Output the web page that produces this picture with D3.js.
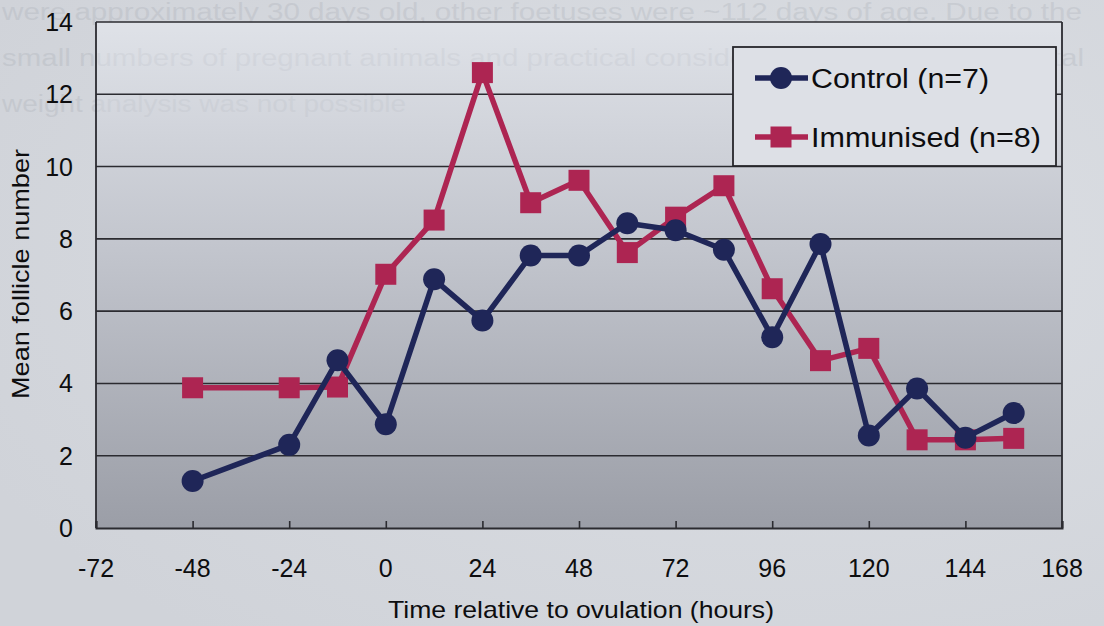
<!DOCTYPE html>
<html>
<head>
<meta charset="utf-8">
<script src="https://cdn.jsdelivr.net/npm/d3@7"></script>
<style>
  html, body { margin: 0; padding: 0; background: #d5d8de; }
  svg { display: block; font-family: "Liberation Sans", Arial, sans-serif; }
</style>
</head>
<body>
<svg id="chart" width="1104" height="626"></svg>
<script>
// Mean follicle number around ovulation, two treatment groups
const hours = [-48, -24, -12, 0, 12, 24, 36, 48, 60, 72, 84, 96, 108, 120, 132, 144, 156];
const control = [1.3, 2.3, 4.64, 2.87, 6.88, 5.74, 7.54, 7.54, 8.43, 8.24, 7.7, 5.28, 7.86, 2.56, 3.86, 2.5, 3.18];
const immunised = [3.88, 3.88, 3.9, 7.02, 8.52, 12.6, 9.0, 9.62, 7.62, 8.6, 9.47, 6.62, 4.63, 4.97, 2.44, 2.44, 2.48];
const xTicks = [-72, -48, -24, 0, 24, 48, 72, 96, 120, 144, 168];
const yTicks = [0, 2, 4, 6, 8, 10, 12, 14];
const seriesNames = ["Control (n=7)", "Immunised (n=8)"];
const pageText = [
  "were approximately 30 days old, other foetuses were ~112 days of age. Due to the",
  "small numbers of pregnant animals and practical considerations at slaughter, foetal",
  "weight analysis was not possible"
];

const svg = d3.select("#chart");
const W = 1104, H = 626;
const plot = { left: 96, right: 1062, top: 22, bottom: 528 };

const x = d3.scaleLinear().domain([-72, 168]).range([plot.left, plot.right]);
const y = d3.scaleLinear().domain([0, 14]).range([plot.bottom, plot.top]);

const navy = "#1f2658";
const crimson = "#ad2552";
const ink = "#0d0d0f";

// page + plot backgrounds
const defs = svg.append("defs");
const grad = defs.append("linearGradient").attr("id", "plotGrad")
  .attr("x1", 0).attr("y1", 0).attr("x2", 0).attr("y2", 1);
grad.append("stop").attr("offset", "0%").attr("stop-color", "#dfe2e8");
grad.append("stop").attr("offset", "45%").attr("stop-color", "#c2c5cd");
grad.append("stop").attr("offset", "100%").attr("stop-color", "#9b9ea7");

const pageGrad = defs.append("radialGradient").attr("id", "pageGrad")
  .attr("cx", "70%").attr("cy", "40%").attr("r", "80%");
pageGrad.append("stop").attr("offset", "0%").attr("stop-color", "#dcdfe4");
pageGrad.append("stop").attr("offset", "100%").attr("stop-color", "#d0d3d9");

svg.append("rect").attr("width", W).attr("height", H).attr("fill", "url(#pageGrad)");

// faint show-through text from the reverse of the page (sits behind the chart frame)
const ghost = svg.append("g").attr("fill", "#8a8f99").attr("opacity", 0.17);
ghost.append("text").attr("x", 2).attr("y", 20).attr("font-size", 23)
  .attr("textLength", 1080).attr("lengthAdjust", "spacingAndGlyphs").text(pageText[0]);
ghost.append("text").attr("x", 2).attr("y", 66).attr("font-size", 23)
  .attr("textLength", 1082).attr("lengthAdjust", "spacingAndGlyphs").text(pageText[1]);
ghost.append("text").attr("x", 2).attr("y", 112).attr("font-size", 23)
  .attr("textLength", 404).attr("lengthAdjust", "spacingAndGlyphs").text(pageText[2]);

svg.append("rect")
  .attr("x", plot.left).attr("y", plot.top)
  .attr("width", plot.right - plot.left).attr("height", plot.bottom - plot.top)
  .attr("fill", "url(#plotGrad)");

// show-through text also faintly visible across the light upper plot area
defs.append("clipPath").attr("id", "plotClip").append("rect")
  .attr("x", plot.left).attr("y", plot.top)
  .attr("width", plot.right - plot.left).attr("height", plot.bottom - plot.top);
const ghost2 = svg.append("g").attr("fill", "#8a8f99").attr("opacity", 0.09)
  .attr("clip-path", "url(#plotClip)");
ghost2.append("text").attr("x", 2).attr("y", 66).attr("font-size", 23)
  .attr("textLength", 1082).attr("lengthAdjust", "spacingAndGlyphs").text(pageText[1]);
ghost2.append("text").attr("x", 2).attr("y", 112).attr("font-size", 23)
  .attr("textLength", 404).attr("lengthAdjust", "spacingAndGlyphs").text(pageText[2]);

// horizontal gridlines
svg.append("g").selectAll("line")
  .data(yTicks.filter(d => d > 0))
  .join("line")
  .attr("x1", plot.left).attr("x2", plot.right)
  .attr("y1", d => y(d)).attr("y2", d => y(d))
  .attr("stroke", "#2b2b30").attr("stroke-width", 1.6);

// side borders
svg.append("line").attr("x1", plot.left).attr("x2", plot.left)
  .attr("y1", plot.top).attr("y2", plot.bottom)
  .attr("stroke", "#2b2b30").attr("stroke-width", 1.8);
svg.append("line").attr("x1", plot.right).attr("x2", plot.right)
  .attr("y1", plot.top).attr("y2", plot.bottom)
  .attr("stroke", "#2b2b30").attr("stroke-width", 1.8);

// x axis with inward ticks
const xAxis = d3.axisBottom(x).tickValues(xTicks).tickSize(-7).tickPadding(0).tickFormat("");
const gx = svg.append("g").attr("transform", `translate(0,${plot.bottom})`).call(xAxis);
gx.select(".domain").attr("stroke", "#2b2b30").attr("stroke-width", 2);
gx.selectAll(".tick line").attr("stroke", "#2b2b30").attr("stroke-width", 1.6);

svg.append("g").selectAll("text")
  .data(xTicks)
  .join("text")
  .attr("x", d => x(d)).attr("y", 577)
  .attr("text-anchor", "middle")
  .attr("font-size", 25).attr("fill", ink)
  .text(d => d);

// y tick labels
svg.append("g").selectAll("text")
  .data(yTicks)
  .join("text")
  .attr("x", 73).attr("y", d => y(d) + 9)
  .attr("text-anchor", "end")
  .attr("font-size", 25).attr("fill", ink)
  .text(d => d);

// axis titles
svg.append("text")
  .attr("x", (plot.left + plot.right) / 2 + 2).attr("y", 618)
  .attr("text-anchor", "middle").attr("font-size", 24).attr("fill", ink)
  .attr("textLength", 386).attr("lengthAdjust", "spacingAndGlyphs")
  .text("Time relative to ovulation (hours)");

svg.append("text")
  .attr("transform", `translate(29,274) rotate(-90)`)
  .attr("text-anchor", "middle").attr("font-size", 24).attr("fill", ink)
  .attr("textLength", 250).attr("lengthAdjust", "spacingAndGlyphs")
  .text("Mean follicle number");

// series
const line = d3.line().x(d => x(d[0])).y(d => y(d[1]));
const controlPts = hours.map((h, i) => [h, control[i]]);
const immPts = hours.map((h, i) => [h, immunised[i]]);

svg.append("path").datum(immPts).attr("d", line)
  .attr("fill", "none").attr("stroke", crimson).attr("stroke-width", 5.5)
  .attr("stroke-linejoin", "round");
svg.append("g").selectAll("rect")
  .data(immPts).join("rect")
  .attr("x", d => x(d[0]) - 10.5).attr("y", d => y(d[1]) - 10.5)
  .attr("width", 21).attr("height", 21)
  .attr("fill", crimson);

svg.append("path").datum(controlPts).attr("d", line)
  .attr("fill", "none").attr("stroke", navy).attr("stroke-width", 5.5)
  .attr("stroke-linejoin", "round");
svg.append("g").selectAll("circle")
  .data(controlPts).join("circle")
  .attr("cx", d => x(d[0])).attr("cy", d => y(d[1]))
  .attr("r", 11).attr("fill", navy);

// legend
const lg = svg.append("g");
lg.append("rect").attr("x", 733).attr("y", 47).attr("width", 323).attr("height", 119)
  .attr("fill", "#dde0e6").attr("stroke", "#26262b").attr("stroke-width", 1.8);
const legendRows = [
  { name: seriesNames[0], color: navy, shape: "circle", cy: 78, len: 178 },
  { name: seriesNames[1], color: crimson, shape: "square", cy: 137, len: 230 }
];
legendRows.forEach(r => {
  lg.append("line").attr("x1", 755).attr("x2", 808).attr("y1", r.cy).attr("y2", r.cy)
    .attr("stroke", r.color).attr("stroke-width", 5.5);
  if (r.shape === "circle") {
    lg.append("circle").attr("cx", 781).attr("cy", r.cy).attr("r", 11).attr("fill", r.color);
  } else {
    lg.append("rect").attr("x", 770.5).attr("y", r.cy - 10.5).attr("width", 21).attr("height", 21)
      .attr("fill", r.color);
  }
  lg.append("text").attr("x", 811).attr("y", r.cy + 10)
    .attr("font-size", 27).attr("fill", ink)
    .attr("textLength", r.len).attr("lengthAdjust", "spacingAndGlyphs")
    .text(r.name);
});
</script>
</body>
</html>
